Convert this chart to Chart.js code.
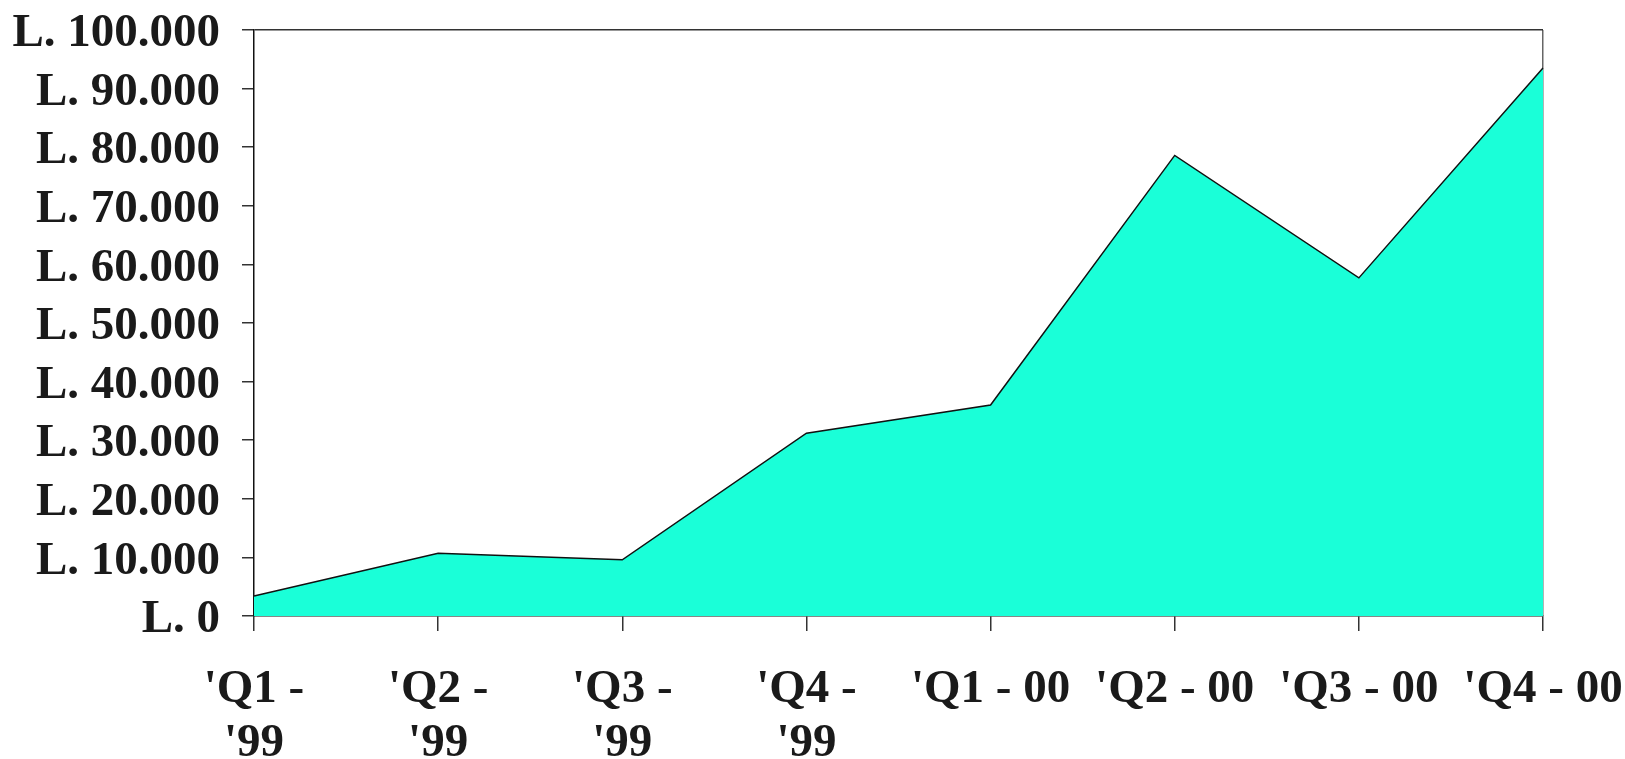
<!DOCTYPE html>
<html>
<head>
<meta charset="utf-8">
<script src="https://cdn.jsdelivr.net/npm/chart.js@4/dist/chart.umd.min.js"></script>
<style>
  html, body { margin: 0; padding: 0; background: #ffffff; }
  #wrap { width: 1625px; height: 759px; }
</style>
</head>
<body>
<div id="wrap"><canvas id="c" width="1625" height="759"></canvas></div>
<script>
// Quarterly figures, in lire
const categories = [
  ["'Q1 -", "'99"],
  ["'Q2 -", "'99"],
  ["'Q3 -", "'99"],
  ["'Q4 -", "'99"],
  "'Q1 - 00",
  "'Q2 - 00",
  "'Q3 - 00",
  "'Q4 - 00"
];
const values = [3400, 10700, 9600, 31200, 36000, 78600, 57700, 93500];

const yMin = 0;
const yMax = 100000;
const yStep = 10000;

function lire(v) {
  const s = String(Math.round(v)).replace(/\B(?=(\d{3})+(?!\d))/g, '.');
  return 'L. ' + s;
}

const serif = "'Liberation Serif', 'Times New Roman', serif";
const xFont = { family: serif, size: 47, weight: 'bold', lineHeight: 1.14 };
const yFont = { family: serif, size: 47, weight: 'bold', lineHeight: 1.1 };
const ink = '#1a1a1a';

// Keep the plot frame fixed: scales do not reserve extra room for overhanging labels
function fixScale(size) {
  return (scale) => {
    if (scale.isHorizontal()) scale.height = size; else scale.width = size;
    scale.paddingTop = 0;
    scale.paddingBottom = 0;
    scale.paddingLeft = 0;
    scale.paddingRight = 0;
  };
}

new Chart(document.getElementById('c'), {
  type: 'line',
  data: {
    labels: categories,
    datasets: [{
      data: values,
      fill: 'origin',
      backgroundColor: 'rgb(26,255,216)',
      borderColor: '#111111',
      borderWidth: 1.5,
      tension: 0,
      pointRadius: 0,
      pointHoverRadius: 0
    }]
  },
  options: {
    responsive: false,
    animation: false,
    events: [],
    layout: { padding: { top: 30, right: 82, left: 0, bottom: 0 } },
    plugins: {
      legend: { display: false },
      tooltip: { enabled: false },
      title: { display: false }
    },
    scales: {
      x: {
        type: 'category',
        offset: false,
        border: { display: true, color: '#111111', width: 1.5 },
        grid: {
          display: true,
          drawOnChartArea: true,
          color: (ctx) => (ctx.index === categories.length - 1 ? '#666666' : 'rgba(0,0,0,0)'),
          tickColor: '#333333',
          tickLength: 15,
          lineWidth: 1.5
        },
        ticks: {
          color: ink,
          font: xFont,
          padding: 32,
          maxRotation: 0,
          minRotation: 0,
          autoSkip: false
        },
        afterFit: fixScale(759 - 616)
      },
      y: {
        min: yMin,
        max: yMax,
        border: { display: true, color: '#111111', width: 1.5 },
        grid: {
          display: true,
          drawOnChartArea: true,
          color: (ctx) => (ctx.tick && ctx.tick.value === yMax ? '#333333' : 'rgba(0,0,0,0)'),
          tickColor: '#333333',
          tickLength: 12,
          lineWidth: 1.5
        },
        ticks: {
          stepSize: yStep,
          color: ink,
          font: yFont,
          padding: 22,
          labelOffset: 4,
          callback: (v) => lire(v)
        },
        afterFit: fixScale(254)
      }
    }
  }
});
</script>
</body>
</html>
